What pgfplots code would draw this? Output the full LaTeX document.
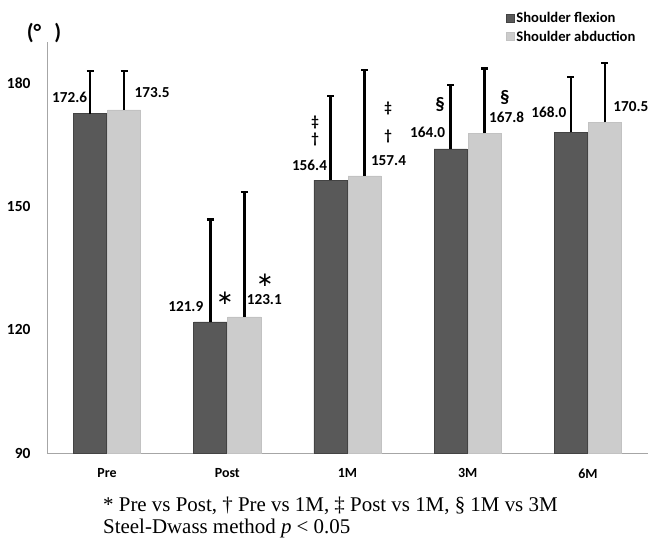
\documentclass[border=0pt]{standalone}
\usepackage{pgfplots}
\usepackage{pgfplotstable}
\pgfplotsset{compat=1.18}
\usepackage{fontspec}
\setmainfont{Carlito}
\newfontfamily\notefont{Liberation Serif}
\newfontfamily\symfont{DejaVu Sans}
\definecolor{flexion}{HTML}{595959}
\definecolor{abduction}{HTML}{CCCCCC}
\definecolor{axisgray}{HTML}{A6A6A6}

% mean, SD and label offsets (bp) for each time point
\pgfplotstableread{
x  mean   sd    dx     dy
0  172.6  10.3  -20.5  16.5
1  121.9  24.9  -24.5  15
2  156.4  20.4  -21    15
3  164.0  15.5  -23    17
4  168.0  13.5  -22    20
}\flexion
\pgfplotstableread{
x  mean   sd    dx     dy
0  173.5  9.4   28     17
1  123.1  30.4  20     17
2  157.4  25.8  24     15
3  167.8  15.8  22     16
4  170.5  14.4  26     16
}\abduction

\begin{document}
\begin{tikzpicture}
% overall frame of the figure
\path[use as bounding box] (-47bp,-88bp) rectangle (604bp,453bp);
\begin{axis}[
  at={(0bp,0bp)}, anchor=south west,
  scale only axis, width=601bp, height=411bp,
  ybar=1bp, bar width=33bp,
  xmin=-0.5, xmax=4.5, ymin=90, ymax=190,
  xtick={0,1,2,3,4}, xticklabels={Pre,Post,1M,3M,6M},
  ytick={90,120,150,180},
  axis x line*=bottom, axis y line*=left,
  axis line style={axisgray, line width=0.8bp},
  major tick length=0pt,
  /pgf/number format/assume math mode=true,
  yticklabel style={font=\bfseries\fontsize{15.5}{17}\selectfont, xshift=-13bp},
  xticklabel style={font=\bfseries\fontsize{14}{16}\selectfont, yshift=-12bp},
  legend image code/.code={\fill[#1] (0bp,-4bp) rectangle (8bp,4bp);},
  legend style={draw=none, fill=none, at={(0.758,1.083)}, anchor=north west,
    font=\bfseries\fontsize{14.7}{17}\selectfont, row sep=3bp,
    cells={anchor=west}},
  error bars/y dir=plus, error bars/y explicit,
  error bars/error bar style={black, line width=2.5bp},
  error bars/error mark options={black, line width=2.5bp, mark size=3.5bp, rotate=90},
  nodes near coords={\pgfmathprintnumber[fixed,fixed zerofill,precision=1,assume math mode=true]{\pgfplotspointmeta}},
  every node near coord/.append style={font=\bfseries\fontsize{15.3}{17}\selectfont, black,
    anchor=center, xshift=\labeldx bp, yshift=\labeldy bp},
]
% shoulder flexion (mean + SD)
\addplot[fill=flexion, draw=flexion!75!black, line width=0.6bp,
  visualization depends on={\thisrow{dx} \as \labeldx},
  visualization depends on={\thisrow{dy} \as \labeldy}]
  table[x=x, y=mean, y error=sd] {\flexion};
% shoulder abduction (mean + SD)
\addplot[fill=abduction, draw=abduction!95!black, line width=0.6bp,
  visualization depends on={\thisrow{dx} \as \labeldx},
  visualization depends on={\thisrow{dy} \as \labeldy}]
  table[x=x, y=mean, y error=sd] {\abduction};
\legend{Shoulder flexion, Shoulder abduction}

% significance marks
\node at (axis cs:0.981,127.7) {\symfont\fontsize{20}{20}\selectfont ∗};
\node at (axis cs:1.314,132.1) {\symfont\fontsize{20}{20}\selectfont ∗};
\node at (axis cs:1.73,170.5) {\bfseries\fontsize{15}{16}\selectfont ‡};
\node at (axis cs:1.73,166.2) {\bfseries\fontsize{15}{16}\selectfont †};
\node at (axis cs:2.337,173.9) {\bfseries\fontsize{15}{16}\selectfont ‡};
\node at (axis cs:2.337,166.9) {\bfseries\fontsize{15}{16}\selectfont †};
\node at (axis cs:2.77,174.7) {\bfseries\fontsize{19}{19}\selectfont §};
\node at (axis cs:3.31,176.6) {\bfseries\fontsize{19}{19}\selectfont §};
\end{axis}
% unit label
\node at (-3bp,420bp) {\bfseries\fontsize{22}{24}\selectfont (°\hspace{0.6em})};
% footnote
\node[anchor=west, inner sep=0pt] at (56bp,-53bp)
  {\notefont\fontsize{21}{23}\selectfont * Pre vs Post, † Pre vs 1M, ‡ Post vs 1M, § 1M vs 3M};
\node[anchor=west, inner sep=0pt] at (56bp,-75bp)
  {\notefont\fontsize{21}{23}\selectfont Steel-Dwass method {\itshape p} < 0.05};
\end{tikzpicture}
\end{document}
